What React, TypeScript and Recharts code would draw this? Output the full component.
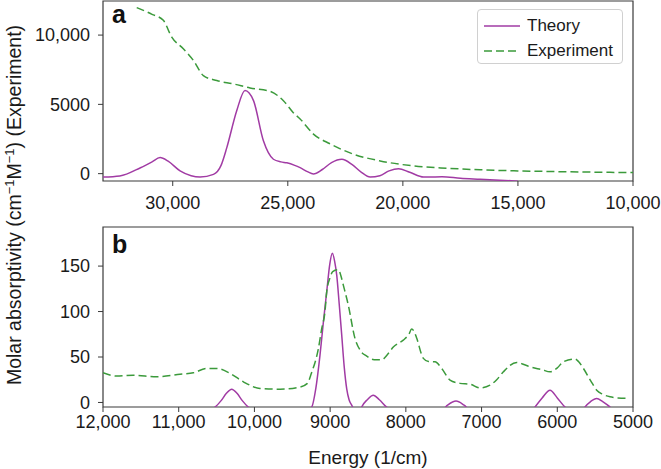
import { LineChart, Line, XAxis, YAxis, ReferenceArea, Legend, Label } from 'recharts'

// panel a: UV-vis region
const theoryA = [
  { e: 33030, v: -250 }, { e: 32300, v: -170 }, { e: 31400, v: 430 }, { e: 30900, v: 850 },
  { e: 30550, v: 1160 }, { e: 30200, v: 900 }, { e: 29680, v: 200 }, { e: 29200, v: -150 },
  { e: 28810, v: -240 }, { e: 28230, v: -50 }, { e: 27900, v: 600 }, { e: 27650, v: 1880 },
  { e: 27220, v: 4540 }, { e: 26860, v: 6000 }, { e: 26490, v: 5270 }, { e: 26060, v: 2370 },
  { e: 25625, v: 1040 }, { e: 25300, v: 850 }, { e: 25040, v: 780 }, { e: 24700, v: 600 },
  { e: 24465, v: 430 }, { e: 24150, v: 150 }, { e: 23886, v: -20 }, { e: 23500, v: 300 },
  { e: 23100, v: 800 }, { e: 22650, v: 1040 }, { e: 22200, v: 650 }, { e: 21800, v: 100 },
  { e: 21421, v: -240 }, { e: 21000, v: -150 }, { e: 20600, v: 200 }, { e: 20190, v: 360 },
  { e: 19700, v: 100 }, { e: 19100, v: -240 }, { e: 18300, v: -230 }, { e: 17500, v: -330 },
  { e: 16640, v: -400 }, { e: 15800, v: -470 }, { e: 15000, v: -540 },
]

const experimentA = [
  { e: 31565, v: 11985 }, { e: 30900, v: 11500 }, { e: 30408, v: 11065 }, { e: 30043, v: 9855 },
  { e: 29540, v: 9014 }, { e: 29100, v: 8166 }, { e: 28670, v: 7080 }, { e: 28085, v: 6717 },
  { e: 27365, v: 6478 }, { e: 26640, v: 6188 }, { e: 25770, v: 5940 }, { e: 25190, v: 5268 },
  { e: 24760, v: 4400 }, { e: 24465, v: 3950 }, { e: 23886, v: 2855 }, { e: 23160, v: 2150 },
  { e: 22146, v: 1405 }, { e: 20986, v: 920 }, { e: 19538, v: 558 }, { e: 18086, v: 390 },
  { e: 16637, v: 280 }, { e: 15000, v: 200 }, { e: 13000, v: 140 }, { e: 11000, v: 95 },
  { e: 10000, v: 80 },
]

// panel b: near-IR region
const theoryB = [
  { e: 12000, v: -8 }, { e: 10600, v: -8 }, { e: 10520, v: -5 }, { e: 10440, v: 2 },
  { e: 10370, v: 10 }, { e: 10300, v: 14.6 }, { e: 10230, v: 10 }, { e: 10160, v: 2 },
  { e: 10081, v: -5 }, { e: 10000, v: -8 }, { e: 9320, v: -8 }, { e: 9244, v: -5 },
  { e: 9190, v: 15 }, { e: 9134, v: 52 }, { e: 9090, v: 88 }, { e: 9045, v: 122 },
  { e: 9005, v: 152 }, { e: 8971, v: 164 }, { e: 8940, v: 155 }, { e: 8913, v: 140 },
  { e: 8880, v: 108 }, { e: 8847, v: 74 }, { e: 8815, v: 40 }, { e: 8781, v: 15 },
  { e: 8750, v: 3 }, { e: 8715, v: -3 }, { e: 8680, v: -8 }, { e: 8600, v: -8 },
  { e: 8584, v: -5 }, { e: 8510, v: 3 }, { e: 8430, v: 8 }, { e: 8350, v: 3 },
  { e: 8254, v: -5 }, { e: 8200, v: -8 }, { e: 7520, v: -8 }, { e: 7450, v: -3 },
  { e: 7337, v: 1.5 }, { e: 7230, v: -3 }, { e: 7150, v: -8 }, { e: 6320, v: -8 },
  { e: 6294, v: -5 }, { e: 6200, v: 5 }, { e: 6096, v: 13.5 }, { e: 6000, v: 5 },
  { e: 5898, v: -5 }, { e: 5850, v: -8 }, { e: 5660, v: -8 }, { e: 5634, v: -5 },
  { e: 5560, v: 1 }, { e: 5479, v: 4.4 }, { e: 5400, v: 1 }, { e: 5303, v: -5 },
  { e: 5250, v: -8 }, { e: 5000, v: -8 },
]

const experimentB = [
  { e: 12000, v: 32.6 }, { e: 11820, v: 29 }, { e: 11600, v: 30 }, { e: 11290, v: 28.2 },
  { e: 10983, v: 31 }, { e: 10807, v: 32.6 }, { e: 10630, v: 37.4 }, { e: 10498, v: 37.4 },
  { e: 10322, v: 32 }, { e: 10146, v: 22.7 }, { e: 9926, v: 15.4 }, { e: 9662, v: 14.6 },
  { e: 9398, v: 17 }, { e: 9300, v: 21 }, { e: 9244, v: 33 }, { e: 9180, v: 50 },
  { e: 9156, v: 59 }, { e: 9112, v: 81 }, { e: 9068, v: 100 }, { e: 9045, v: 122 },
  { e: 9002, v: 137 }, { e: 8966, v: 144 }, { e: 8892, v: 146 }, { e: 8860, v: 140 },
  { e: 8826, v: 129 }, { e: 8760, v: 107 }, { e: 8672, v: 70.5 }, { e: 8600, v: 57 },
  { e: 8517, v: 51 }, { e: 8420, v: 47 }, { e: 8320, v: 47 }, { e: 8240, v: 53 },
  { e: 8166, v: 61 }, { e: 8034, v: 68.6 }, { e: 7960, v: 75 }, { e: 7923, v: 80.7 },
  { e: 7880, v: 76 }, { e: 7856, v: 70.5 }, { e: 7769, v: 48.5 }, { e: 7700, v: 45 },
  { e: 7615, v: 44.7 }, { e: 7526, v: 37.4 }, { e: 7417, v: 24.6 }, { e: 7285, v: 21 },
  { e: 7150, v: 20 }, { e: 7021, v: 16 }, { e: 6888, v: 19 }, { e: 6800, v: 25 },
  { e: 6712, v: 33.7 }, { e: 6536, v: 44 }, { e: 6450, v: 42 }, { e: 6360, v: 39.2 },
  { e: 6200, v: 36 }, { e: 6096, v: 33.7 }, { e: 6000, v: 38 }, { e: 5920, v: 44.7 },
  { e: 5765, v: 47.7 }, { e: 5720, v: 45 }, { e: 5655, v: 37.4 }, { e: 5560, v: 24 },
  { e: 5479, v: 13.5 }, { e: 5400, v: 9 }, { e: 5303, v: 6.2 }, { e: 5200, v: 5 },
  { e: 5061, v: 4.4 },
]

const xTicksA = [30000, 25000, 20000, 15000, 10000]
const yTicksA = [0, 5000, 10000]
const xTicksB = [12000, 11000, 10000, 9000, 8000, 7000, 6000, 5000]
const yTicksB = [0, 50, 100, 150]

const xDomainA: [number, number] = [10000, 33030]
const yDomainA: [number, number] = [-530, 12460]
const xDomainB: [number, number] = [5000, 12000]
const yDomainB: [number, number] = [-5, 193]

const PURPLE = '#a13ba4'
const GREEN = '#3b9a3b'
const AXIS = '#3a3a3a'
const FONT = '"Liberation Sans", Arial, sans-serif'

const fmt = (v: number) => (Math.abs(v) >= 10000 ? v.toLocaleString('en-US') : String(v))
const tickStyle = { fontSize: 18, fill: '#1a1a1a', fontFamily: FONT }

function LegendBox() {
  return (
    <div
      style={{
        width: 146,
        height: 55,
        border: '1px solid #d0d0d0',
        borderRadius: 4,
        background: 'rgba(255,255,255,0.85)',
        fontFamily: FONT,
        fontSize: 17,
        color: '#1a1a1a',
        boxSizing: 'border-box',
        paddingTop: 3,
      }}
    >
      {[
        { name: 'Theory', color: PURPLE, dash: undefined },
        { name: 'Experiment', color: GREEN, dash: '8 4' },
      ].map((it) => (
        <div key={it.name} style={{ display: 'flex', alignItems: 'center', height: 25 }}>
          <svg width={49} height={10} style={{ flex: 'none' }}>
            <line x1={6} x2={42} y1={5} y2={5} stroke={it.color} strokeWidth={1.5} strokeDasharray={it.dash} />
          </svg>
          <span>{it.name}</span>
        </div>
      ))}
    </div>
  )
}

export default function App() {
  return (
    <div style={{ position: 'absolute', left: 0, top: 0, width: 661, height: 469, background: '#fff', fontFamily: FONT }}>
      <div style={{ position: 'absolute', left: 0, top: 0 }}>
        <LineChart width={661} height={215} margin={{ top: 1, right: 28, left: 0, bottom: 0 }}>
          <XAxis
            type="number"
            dataKey="e"
            domain={xDomainA}
            reversed
            allowDataOverflow
            ticks={xTicksA}
            tickFormatter={fmt}
            tick={tickStyle}
            tickSize={5}
            tickMargin={10}
            tickLine={{ stroke: AXIS }}
            axisLine={false}
            height={34}
          />
          <YAxis
            type="number"
            dataKey="v"
            domain={yDomainA}
            allowDataOverflow
            ticks={yTicksA}
            tickFormatter={fmt}
            tick={tickStyle}
            tickSize={5}
            tickMargin={8}
            tickLine={{ stroke: AXIS }}
            axisLine={false}
            width={103}
          />
          <ReferenceArea
            x1={xDomainA[1]}
            x2={xDomainA[0]}
            y1={yDomainA[0]}
            y2={yDomainA[1]}
            fill="none"
            stroke={AXIS}
            strokeWidth={1.2}
          />
          <Line data={theoryA} dataKey="v" type="monotone" stroke={PURPLE} strokeWidth={1.5} dot={false} isAnimationActive={false} name="Theory" />
          <Line data={experimentA} dataKey="v" type="monotone" stroke={GREEN} strokeWidth={1.5} strokeDasharray="8 4" dot={false} isAnimationActive={false} name="Experiment" />
          <Legend
            layout="vertical"
            align="center"
            verticalAlign="middle"
            content={() => <LegendBox />}
            wrapperStyle={{ position: 'absolute', left: 477, top: 9, width: 146, height: 55, margin: 0 }}
          />
        </LineChart>
      </div>
      <div style={{ position: 'absolute', left: 0, top: 220 }}>
        <LineChart width={661} height={249} margin={{ top: 7, right: 28, left: 0, bottom: 0 }}>
          <XAxis
            type="number"
            dataKey="e"
            domain={xDomainB}
            reversed
            allowDataOverflow
            ticks={xTicksB}
            tickFormatter={fmt}
            tick={tickStyle}
            tickSize={5}
            tickMargin={3}
            tickLine={{ stroke: AXIS }}
            axisLine={false}
            height={62}
          >
            <Label value="Energy (1/cm)" position="insideTop" offset={44} style={{ fontSize: 19, fill: '#1a1a1a', fontFamily: FONT }} />
          </XAxis>
          <YAxis
            type="number"
            dataKey="v"
            domain={yDomainB}
            allowDataOverflow
            ticks={yTicksB}
            tick={tickStyle}
            tickSize={5}
            tickMargin={8}
            tickLine={{ stroke: AXIS }}
            axisLine={false}
            width={103}
          />
          <ReferenceArea
            x1={xDomainB[1]}
            x2={xDomainB[0]}
            y1={yDomainB[0]}
            y2={yDomainB[1]}
            fill="none"
            stroke={AXIS}
            strokeWidth={1.2}
          />
          <Line data={theoryB} dataKey="v" type="monotone" stroke={PURPLE} strokeWidth={1.5} dot={false} isAnimationActive={false} name="Theory" />
          <Line data={experimentB} dataKey="v" type="monotone" stroke={GREEN} strokeWidth={1.5} strokeDasharray="8 4" dot={false} isAnimationActive={false} name="Experiment" />
        </LineChart>
      </div>
      <div style={{ position: 'absolute', left: 112, top: 2, fontSize: 25, fontWeight: 'bold', lineHeight: 1, color: '#111' }}>a</div>
      <div style={{ position: 'absolute', left: 112, top: 232, fontSize: 25, fontWeight: 'bold', lineHeight: 1, color: '#111' }}>b</div>
      <div
        style={{
          position: 'absolute',
          left: 15,
          top: 205,
          transform: 'translate(-50%, -50%) rotate(-90deg)',
          whiteSpace: 'nowrap',
          fontSize: 19.5,
          lineHeight: 1,
          color: '#1a1a1a',
        }}
      >
        Molar absorptivity (cm<sup style={{ fontSize: 13, lineHeight: 0 }}>−1</sup>M<sup style={{ fontSize: 13, lineHeight: 0 }}>−1</sup>) (Experiment)
      </div>
    </div>
  )
}
